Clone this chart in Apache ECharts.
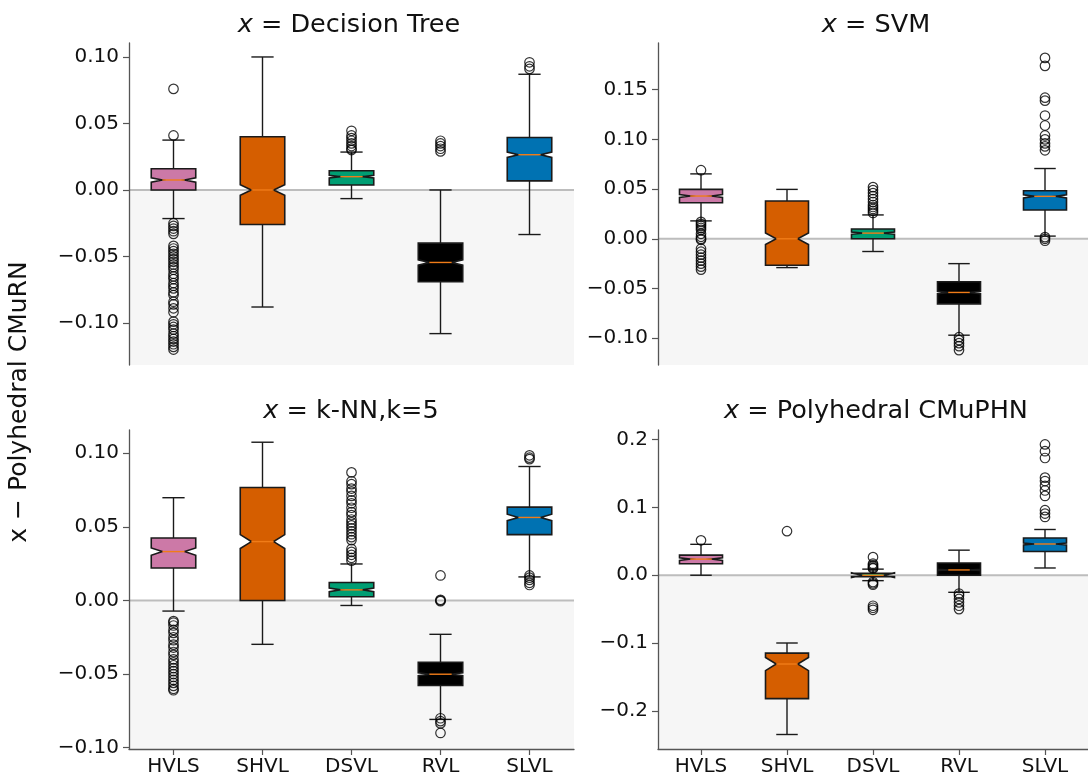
<!DOCTYPE html>
<html><head><meta charset="utf-8">
<script src="https://cdn.jsdelivr.net/npm/echarts@6/dist/echarts.min.js"></script>
<style>html,body{margin:0;padding:0;background:#fff}#c{width:1088px;height:778px}</style>
</head><body><div id="c"></div>
<script>
const categories = ['HVLS', 'SHVL', 'DSVL', 'RVL', 'SLVL'];
const boxColors = ['#cc79a7', '#d55e00', '#009e73', '#000000', '#0072b2'];
const titles = ['Decision Tree', 'SVM', 'k-NN,k=5', 'Polyhedral CMuPHN'];
const yLabel = 'x \u2212 Polyhedral CMuRN';

// Panel 1: x = Decision Tree
const dtLow   = [-0.0215, -0.088, -0.0065, -0.108, -0.0335];
const dtQ1    = [0.0, -0.026, 0.0037, -0.069, 0.0068];
const dtMed   = [0.0075, 0.0, 0.0100, -0.0545, 0.0265];
const dtQ3    = [0.016, 0.040, 0.0145, -0.040, 0.0395];
const dtHigh  = [0.0375, 0.100, 0.0285, 0.0, 0.087];
const dtNotch = [0.0017, 0.0040, 0.0010, 0.0020, 0.0020];
const dtOutliers = [
  [0.076, 0.041, -0.025, -0.027, -0.029, -0.031, -0.033, -0.042, -0.044, -0.046, -0.048, -0.050, -0.052, -0.054, -0.056, -0.058, -0.060, -0.063, -0.065, -0.067, -0.070, -0.072, -0.074, -0.077, -0.079, -0.084, -0.086, -0.089, -0.092, -0.099, -0.101, -0.103, -0.105, -0.108, -0.110, -0.112, -0.114, -0.116, -0.118, -0.120],
  [],
  [0.030, 0.031, 0.033, 0.035, 0.037, 0.039, 0.041, 0.0445],
  [0.029, 0.031, 0.033, 0.035, 0.037],
  [0.091, 0.093, 0.096]
];
const dtTicks = [-0.10, -0.05, 0.00, 0.05, 0.10];
const dtRange = [-0.1316, 0.1105];

// Panel 2: x = SVM
const svLow   = [0.018, -0.029, -0.0128, -0.097, 0.0027];
const svQ1    = [0.0363, -0.0267, 0.0, -0.0655, 0.029];
const svMed   = [0.043, 0.0, 0.0057, -0.054, 0.0427];
const svQ3    = [0.0497, 0.038, 0.0098, -0.0433, 0.0483];
const svHigh  = [0.0653, 0.0497, 0.024, -0.025, 0.0707];
const svNotch = [0.0015, 0.0058, 0.0010, 0.0012, 0.0015];
const svOutliers = [
  [0.069, 0.017, 0.015, 0.013, 0.011, 0.009, 0.005, 0.002, 0.0, -0.001, -0.010, -0.013, -0.016, -0.019, -0.022, -0.025, -0.028, -0.031],
  [],
  [0.026, 0.028, 0.030, 0.032, 0.034, 0.037, 0.040, 0.043, 0.046, 0.049, 0.052],
  [-0.099, -0.102, -0.105, -0.108, -0.112],
  [0.182, 0.174, 0.142, 0.139, 0.124, 0.114, 0.104, 0.100, 0.096, 0.093, 0.089, 0.0017, 0.0, -0.002]
];
const svTicks = [-0.10, -0.05, 0.00, 0.05, 0.10, 0.15];
const svRange = [-0.127, 0.197];

// Panel 3: x = k-NN,k=5
const knLow   = [-0.0072, -0.0298, -0.0034, -0.0808, 0.016];
const knQ1    = [0.0221, 0.0, 0.0025, -0.0578, 0.0447];
const knMed   = [0.0332, 0.040, 0.0072, -0.0501, 0.0564];
const knQ3    = [0.0424, 0.0767, 0.0122, -0.042, 0.0634];
const knHigh  = [0.0698, 0.1075, 0.0248, -0.023, 0.091];
const knNotch = [0.0025, 0.0047, 0.0012, 0.0010, 0.0022];
const knOutliers = [
  [-0.014, -0.015, -0.017, -0.020, -0.022, -0.025, -0.027, -0.030, -0.032, -0.035, -0.037, -0.040, -0.042, -0.044, -0.046, -0.048, -0.050, -0.052, -0.054, -0.056, -0.058, -0.060, -0.061],
  [],
  [0.087, 0.081, 0.079, 0.076, 0.074, 0.071, 0.068, 0.066, 0.063, 0.060, 0.058, 0.055, 0.053, 0.051, 0.049, 0.047, 0.045, 0.043, 0.041, 0.035, 0.033, 0.031, 0.029, 0.027],
  [0.017, 0.0005, 0.0, -0.0005, -0.080, -0.082, -0.0835, -0.090],
  [0.0986, 0.097, 0.096, 0.017, 0.0155, 0.014, 0.012, 0.0105]
];
const knTicks = [-0.10, -0.05, 0.00, 0.05, 0.10];
const knRange = [-0.1009, 0.1158];

// Panel 4: x = Polyhedral CMuPHN
const phLow   = [0.0, -0.235, -0.008, -0.0252, 0.0107];
const phQ1    = [0.017, -0.182, -0.002, 0.0, 0.035];
const phMed   = [0.0238, -0.131, 0.0, 0.0078, 0.0461];
const phQ3    = [0.0296, -0.115, 0.003, 0.018, 0.0549];
const phHigh  = [0.0456, -0.100, 0.009, 0.037, 0.0675];
const phNotch = [0.0020, 0.0097, 0.0035, 0.0008, 0.0015];
const phOutliers = [
  [0.0515],
  [0.065],
  [0.0267, 0.017, 0.015, 0.013, 0.011, 0.010, -0.010, -0.012, -0.014, -0.045, -0.048, -0.051],
  [-0.027, -0.030, -0.035, -0.040, -0.045, -0.050],
  [0.193, 0.183, 0.173, 0.144, 0.139, 0.132, 0.125, 0.117, 0.096, 0.091, 0.086]
];
const phTicks = [-0.2, -0.1, 0.0, 0.1, 0.2];
const phRange = [-0.2564, 0.2143];

const panels = [
  {low: dtLow, q1: dtQ1, med: dtMed, q3: dtQ3, high: dtHigh, notch: dtNotch, out: dtOutliers, ticks: dtTicks, range: dtRange, dec: 2},
  {low: svLow, q1: svQ1, med: svMed, q3: svQ3, high: svHigh, notch: svNotch, out: svOutliers, ticks: svTicks, range: svRange, dec: 2},
  {low: knLow, q1: knQ1, med: knMed, q3: knQ3, high: knHigh, notch: knNotch, out: knOutliers, ticks: knTicks, range: knRange, dec: 2},
  {low: phLow, q1: phQ1, med: phMed, q3: phQ3, high: phHigh, notch: phNotch, out: phOutliers, ticks: phTicks, range: phRange, dec: 1}
];

const FONT = 'DejaVu Sans';
const AX = '#555555';
const TXT = '#111111';
const grids = [
  {left: 129, top: 43, width: 445, height: 322},
  {left: 658, top: 43, width: 440, height: 322},
  {left: 129, top: 430, width: 445, height: 319},
  {left: 658, top: 430, width: 440, height: 319}
];

function fmt(dec) {
  return function (v) {
    const s = Math.abs(v).toFixed(dec);
    return (v < -1e-9 ? '\u2212' : '') + s;
  };
}

function renderBox(params, api) {
  const i = api.value(0);
  const lo = api.value(1), q1 = api.value(2), med = api.value(3), q3 = api.value(4), hi = api.value(5), nt = api.value(6);
  const bw = api.size([1, 0])[0] * 0.5;
  const cx = api.coord([i, med])[0];
  const y = v => api.coord([i, v])[1];
  const L = cx - bw / 2, R = cx + bw / 2, nL = cx - bw / 4, nR = cx + bw / 4;
  const ink = '#1a1a1a';
  const pts = [
    [L, y(q1)], [R, y(q1)], [R, y(med - nt)], [nR, y(med)], [R, y(med + nt)], [R, y(q3)],
    [L, y(q3)], [L, y(med + nt)], [nL, y(med)], [L, y(med - nt)]
  ];
  return {
    type: 'group',
    children: [
      {type: 'line', shape: {x1: cx, y1: y(q1), x2: cx, y2: y(lo)}, style: {stroke: ink, lineWidth: 1.4}},
      {type: 'line', shape: {x1: cx, y1: y(q3), x2: cx, y2: y(hi)}, style: {stroke: ink, lineWidth: 1.4}},
      {type: 'line', shape: {x1: nL, y1: y(lo), x2: nR, y2: y(lo)}, style: {stroke: ink, lineWidth: 1.4}},
      {type: 'line', shape: {x1: nL, y1: y(hi), x2: nR, y2: y(hi)}, style: {stroke: ink, lineWidth: 1.4}},
      {type: 'polygon', shape: {points: pts}, style: {fill: boxColors[i], stroke: ink, lineWidth: 1.6}},
      {type: 'line', shape: {x1: nL, y1: y(med), x2: nR, y2: y(med)}, style: {stroke: '#f07c18', lineWidth: 1.4}}
    ]
  };
}

function renderShade(params, api) {
  const cs = params.coordSys;
  const y0 = api.coord([0, 0])[1];
  return {
    type: 'group',
    children: [
      {type: 'rect', shape: {x: cs.x, y: y0, width: cs.width, height: cs.y + cs.height - y0}, style: {fill: '#f6f6f6'}},
      {type: 'line', shape: {x1: cs.x, y1: y0, x2: cs.x + cs.width, y2: y0}, style: {stroke: '#bdbdbd', lineWidth: 2}}
    ]
  };
}

const xAxes = [], yAxes = [], series = [];
panels.forEach((p, k) => {
  const bottom = k >= 2;
  xAxes.push({
    type: 'category', gridIndex: k, data: categories, boundaryGap: true, position: 'bottom',
    axisLine: {show: bottom, onZero: false, lineStyle: {color: AX, width: 1.3}},
    axisTick: {show: bottom, alignWithLabel: true, length: 6, lineStyle: {color: AX, width: 1.2}},
    axisLabel: {show: bottom, fontFamily: FONT, fontSize: 20, color: TXT, margin: 8},
    splitLine: {show: false}
  });
  yAxes.push({
    type: 'value', gridIndex: k, min: p.range[0], max: p.range[1],
    axisLine: {show: true, onZero: false, lineStyle: {color: AX, width: 1.3}},
    axisTick: {show: true, length: 6, lineStyle: {color: AX, width: 1.2}, customValues: p.ticks},
    axisLabel: {fontFamily: FONT, fontSize: 20, color: TXT, margin: 10, formatter: fmt(p.dec), customValues: p.ticks},
    splitLine: {show: false}
  });
  series.push({
    type: 'custom', xAxisIndex: k, yAxisIndex: k, z: -1, silent: true,
    renderItem: renderShade, data: [[0, 0]], clip: false
  });
  series.push({
    type: 'custom', xAxisIndex: k, yAxisIndex: k, z: 2, silent: true,
    renderItem: renderBox,
    encode: {x: 0, y: [1, 2, 3, 4, 5]},
    data: categories.map((c, i) => [i, p.low[i], p.q1[i], p.med[i], p.q3[i], p.high[i], p.notch[i]])
  });
  const pts = [];
  p.out.forEach((arr, i) => arr.forEach(v => pts.push([i, v])));
  series.push({
    type: 'scatter', xAxisIndex: k, yAxisIndex: k, z: 3, silent: true,
    symbol: 'circle', symbolSize: 9.5,
    itemStyle: {color: 'rgba(0,0,0,0)', borderColor: '#000', borderWidth: 1.2},
    data: pts
  });
});

const titleCenters = [[349, 25], [876, 25], [351, 411], [876, 411]];
const graphics = titles.map((t, k) => ({
  type: 'text', x: titleCenters[k][0], y: titleCenters[k][1],
  style: {
    text: '{i|x} = ' + t, align: 'center', verticalAlign: 'middle',
    fontFamily: FONT, fontSize: 25.5, fill: TXT,
    rich: {i: {fontStyle: 'italic', fontFamily: FONT, fontSize: 25.5, fill: TXT}}
  }
}));
graphics.push({
  type: 'text', x: 19, y: 402, rotation: Math.PI / 2,
  style: {text: yLabel, align: 'center', verticalAlign: 'middle', fontFamily: FONT, fontSize: 25, fill: TXT}
});

const chart = echarts.init(document.getElementById('c'), null, {renderer: 'canvas'});
chart.setOption({
  animation: false,
  backgroundColor: '#ffffff',
  grid: grids,
  xAxis: xAxes,
  yAxis: yAxes,
  series: series,
  graphic: graphics
});
</script>
</body></html>
